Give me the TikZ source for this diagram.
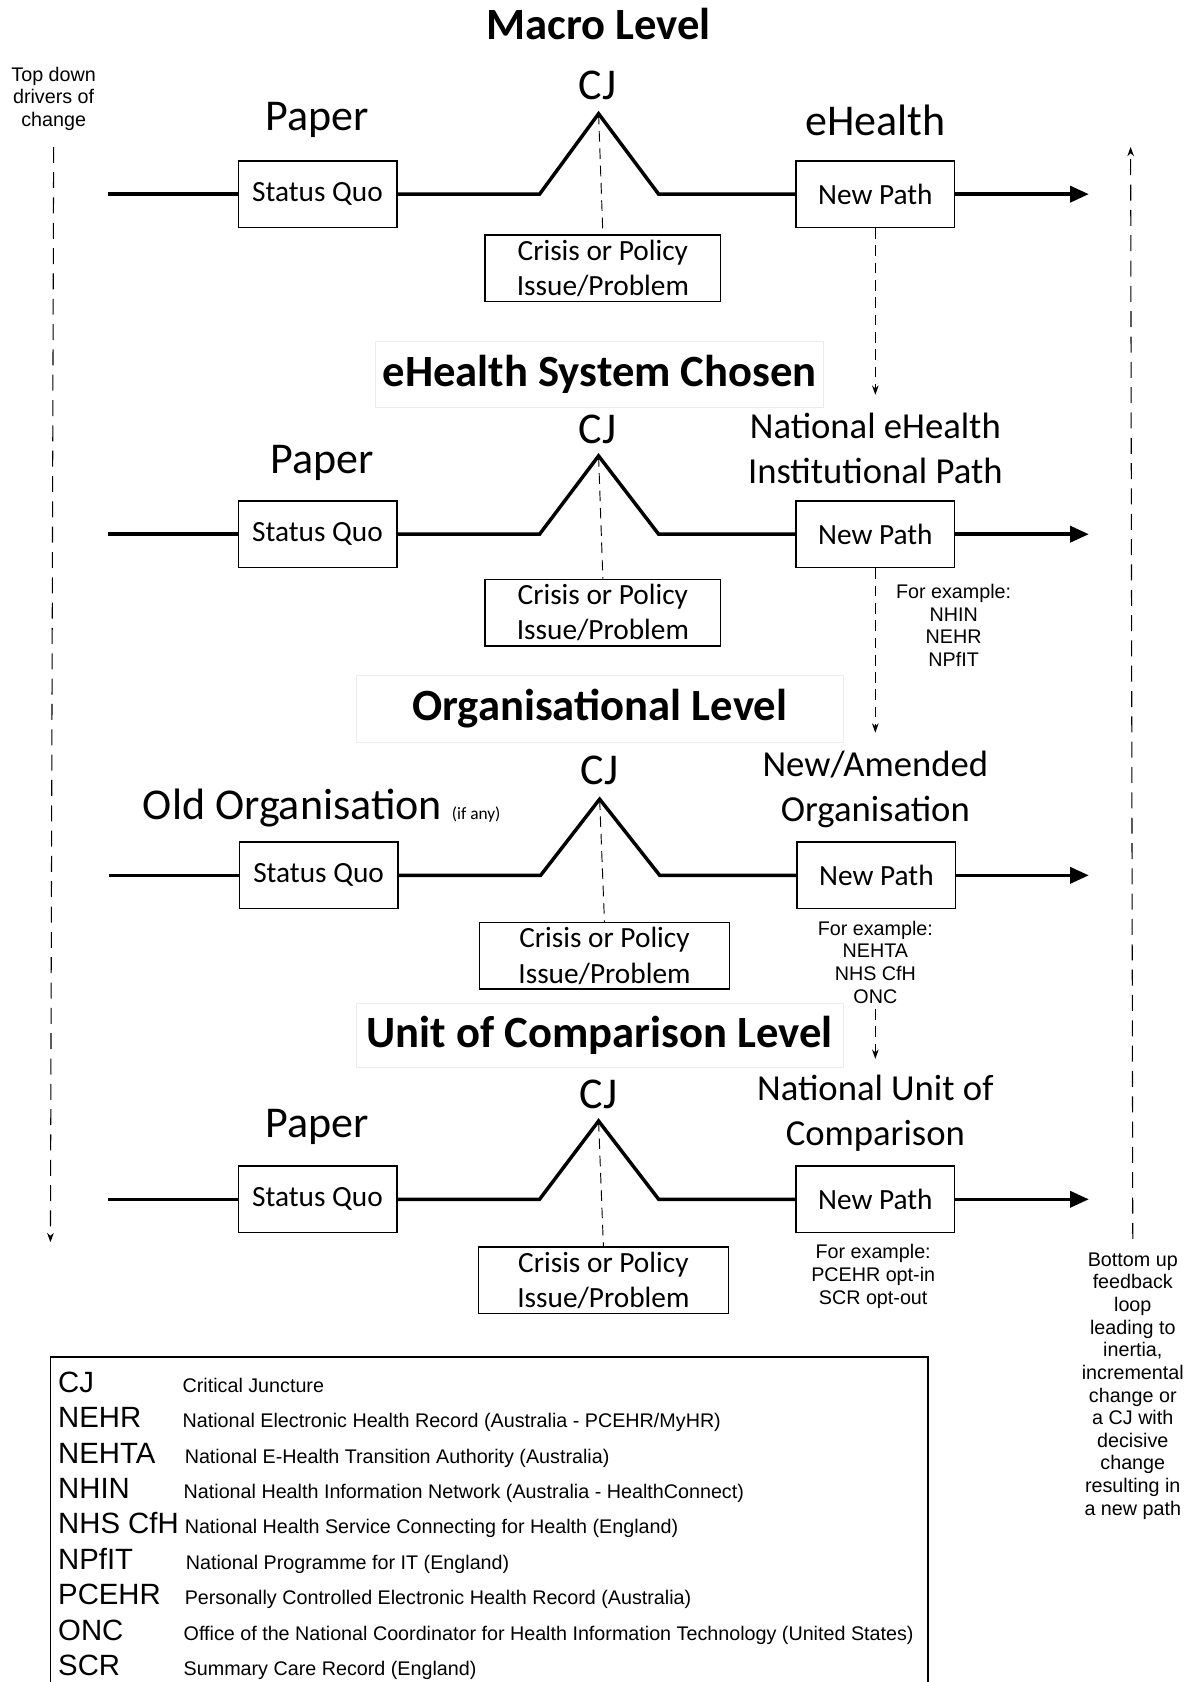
\documentclass[tikz,border=0pt]{standalone}
\usepackage{fontspec}
\setmainfont{Carlito}
\newfontfamily\hv{Liberation Sans}
\usetikzlibrary{arrows.meta}
\begin{document}
\begin{tikzpicture}[x=0.8048pt,y=-0.8048pt,
  box/.style={draw,line width=1pt,inner sep=0pt,align=center,font=\fontsize{22}{26.5}\selectfont},
  sqbox/.style={box,minimum width=119pt,minimum height=50pt},
  crbox/.style={box,minimum width=177pt,minimum height=50pt},
  crboxw/.style={box,minimum width=187.5pt,minimum height=50pt},
  head/.style={draw=gray!15,line width=0.6pt,inner sep=0pt,minimum height=50pt,font=\fontsize{33.5}{38}\selectfont\bfseries},
  big/.style={inner sep=0pt,font=\fontsize{33}{38}\selectfont},
  mid/.style={inner sep=0pt,align=center,font=\fontsize{27.5}{34}\selectfont},
  small/.style={inner sep=0pt,align=center,font=\hv\fontsize{14.8}{17}\selectfont},
  abbr/.style={inner sep=0pt,anchor=base west,font=\hv\fontsize{22}{26}\selectfont},
  desc/.style={inner sep=0pt,anchor=base west,font=\hv\fontsize{14.8}{17}\selectfont},
  mainln/.style={line width=2.6pt,line join=miter},
  mainarrow/.style={mainln,-{Triangle[length=14pt,width=12pt]}},
  thindash/.style={line width=0.7pt,dash pattern=on 8pt off 5pt},
  sidedash/.style={line width=0.8pt,dash pattern=on 12pt off 7pt,-{Stealth[length=7pt,width=5pt]}}
]
\useasboundingbox (0,0) rectangle (1109,1568);

% ---------------- Macro level ----------------
\node[head,draw=none] (t1) at (558,22) {Macro Level};
\node[big] (cj1) at (557,80) {CJ};
\node[big] (pa1) at (296,112) {Paper};
\node[big] (eh1) at (816,112) {eHealth};
\coordinate (s1) at (101,181);
\node[sqbox] (sq1) at (296,181) {Status Quo};
\coordinate (a1) at (503,181);
\coordinate (p1) at (558,106);
\coordinate (b1) at (614,181);
\node[sqbox] (np1) at (816,181) {New Path};
\coordinate (e1) at (1015,181);
\node[crbox] (cr1) at (562,250) {Crisis or Policy\\Issue/Problem};
\draw[mainln] (s1) -- (sq1.west);
\draw[mainln] (sq1.east) -- (a1) -- (p1) -- (b1) -- (np1.west);
\draw[mainarrow] (np1.east) -- (e1);
\draw[thindash] (p1) -- (cr1.north);
\coordinate (d1) at (816,368);
\draw[thindash,-{Stealth[length=7pt,width=5pt]}] (np1.south) -- (d1);

% ---------------- eHealth system chosen ----------------
\node[head,minimum width=336pt] (h2) at (559,349) {eHealth System Chosen};
\node[big] (cj2) at (557,400) {CJ};
\node[big] (pa2) at (300,432) {Paper};
\node[mid] (lb2) at (816,418) {National eHealth\\Institutional Path};
\coordinate (s2) at (101,498);
\node[sqbox] (sq2) at (296,498) {Status Quo};
\coordinate (a2) at (503,498);
\coordinate (p2) at (558,425);
\coordinate (b2) at (614,498);
\node[sqbox] (np2) at (816,498) {New Path};
\coordinate (e2) at (1015,498);
\node[crbox] (cr2) at (562,571) {Crisis or Policy\\Issue/Problem};
\draw[mainln] (s2) -- (sq2.west);
\draw[mainln] (sq2.east) -- (a2) -- (p2) -- (b2) -- (np2.west);
\draw[mainarrow] (np2.east) -- (e2);
\draw[thindash] (p2) -- (cr2.north);
\node[small] (ex2) at (889,583) {For example:\\NHIN\\NEHR\\NPfIT};
\coordinate (d2) at (816,683);
\draw[thindash,-{Stealth[length=7pt,width=5pt]}] (np2.south) -- (d2);

% ---------------- Organisational level ----------------
\node[head,minimum width=365pt] (h3) at (559,661) {Organisational Level};
\node[big] (cj3) at (559,718) {CJ};
\node[big,anchor=base west] (pa3) at (133,764) {Old Organisation {\fontsize{13}{15}\selectfont (if any)}};
\node[mid] (lb3) at (816,736) {New/Amended\\Organisation};
\coordinate (s3) at (102,816);
\node[sqbox] (sq3) at (297,816) {Status Quo};
\coordinate (a3) at (504,816);
\coordinate (p3) at (559,745);
\coordinate (b3) at (615,816);
\node[sqbox] (np3) at (817,816) {New Path};
\coordinate (e3) at (1015,816);
\node[crboxw] (cr3) at (563.5,891) {Crisis or Policy\\Issue/Problem};
\draw[mainln] (s3) -- (sq3.west);
\draw[mainln] (sq3.east) -- (a3) -- (p3) -- (b3) -- (np3.west);
\draw[mainarrow] (np3.east) -- (e3);
\draw[thindash] (p3) -- (cr3.north);
\node[small] (ex3) at (816,897) {For example:\\NEHTA\\NHS CfH\\ONC};
\coordinate (d3) at (816,987);
\draw[thindash,-{Stealth[length=7pt,width=5pt]}] ([yshift=-4pt]ex3.south) -- (d3);

% ---------------- Unit of comparison level ----------------
\node[head,minimum width=365pt,minimum height=48pt] (h4) at (559,965) {Unit of Comparison Level};
\node[big] (cj4) at (558,1020) {CJ};
\node[big] (pa4) at (296,1051) {Paper};
\node[mid] (lb4) at (816,1038) {National Unit of\\Comparison};
\coordinate (s4) at (101,1118);
\node[sqbox] (sq4) at (296,1118) {Status Quo};
\coordinate (a4) at (503,1118);
\coordinate (p4) at (558,1045);
\coordinate (b4) at (614,1118);
\node[sqbox] (np4) at (816,1118) {New Path};
\coordinate (e4) at (1015,1118);
\node[crboxw] (cr4) at (562.5,1193.5) {Crisis or Policy\\Issue/Problem};
\draw[mainln] (s4) -- (sq4.west);
\draw[mainln] (sq4.east) -- (a4) -- (p4) -- (b4) -- (np4.west);
\draw[mainarrow] (np4.east) -- (e4);
\draw[thindash] (p4) -- (cr4.north);
\node[small] (ex4) at (814,1190) {For example:\\PCEHR opt-in\\SCR opt-out};

% ---------------- side drivers ----------------
\node[small] (td) at (50,92) {Top down\\drivers of\\change};
\coordinate (tdend) at (47,1158);
\draw[sidedash] ([yshift=-12pt]td.south) -- (tdend);
\node[small] (bu) at (1056,1292) {Bottom up\\feedback\\loop\\leading to\\inertia,\\incremental\\change or\\a CJ with\\decisive\\change\\resulting in\\a new path};
\coordinate (buend) at (1054,137);
\draw[sidedash] ([yshift=10pt]bu.north) -- (buend);

% ---------------- legend ----------------
\coordinate (lg1) at (47,1568);
\coordinate (lg2) at (47,1265);
\coordinate (lg3) at (865,1265);
\coordinate (lg4) at (865,1568);
\draw[line width=0.9pt] (lg1) -- (lg2) -- (lg3) -- (lg4);
\node[abbr] (k1) at (54,1298) {CJ};
\node[desc] (v1) at (170,1298) {Critical Juncture};
\node[abbr] (k2) at (54,1331) {NEHR};
\node[desc] (v2) at (170,1331) {National Electronic Health Record (Australia - PCEHR/MyHR)};
\node[abbr] (k3) at (54,1364) {NEHTA};
\node[desc] (v3) at (172,1364) {National E-Health Transition Authority (Australia)};
\node[abbr] (k4) at (54,1397) {NHIN};
\node[desc] (v4) at (171,1397) {National Health Information Network (Australia - HealthConnect)};
\node[abbr] (k5) at (54,1430) {NHS CfH};
\node[desc] (v5) at (172,1430) {National Health Service Connecting for Health (England)};
\node[abbr] (k6) at (54,1463) {NPfIT};
\node[desc] (v6) at (173,1463) {National Programme for IT (England)};
\node[abbr] (k7) at (54,1496) {PCEHR};
\node[desc] (v7) at (172,1496) {Personally Controlled Electronic Health Record (Australia)};
\node[abbr] (k8) at (54,1529) {ONC};
\node[desc] (v8) at (171,1529) {Office of the National Coordinator for Health Information Technology (United States)};
\node[abbr] (k9) at (54,1562) {SCR};
\node[desc] (v9) at (171,1562) {Summary Care Record (England)};
\end{tikzpicture}
\end{document}
